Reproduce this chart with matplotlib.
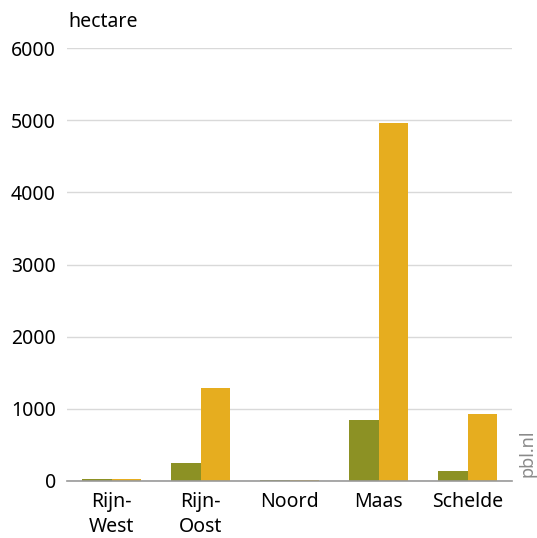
import matplotlib
matplotlib.use("Agg")
import matplotlib.pyplot as plt
import numpy as np

plt.rcParams['font.family'] = ['Noto Sans', 'DejaVu Sans']

categories = ["Rijn-\nWest", "Rijn-\nOost", "Noord", "Maas", "Schelde"]
series_green = [25, 245, 8, 845, 140]
series_orange = [22, 1295, 8, 4960, 930]
yticks = [0, 1000, 2000, 3000, 4000, 5000, 6000]

green = "#8c9124"
orange = "#e6ad1f"

fig = plt.figure(figsize=(5.37, 5.38), dpi=100)
ax = fig.add_axes([67/537, 1-481/538, 445/537, 433/538])

x = np.arange(len(categories))
w = 0.335
ax.bar(x - w/2, series_green, width=w, color=green, zorder=3)
ax.bar(x + w/2, series_orange, width=w, color=orange, zorder=3)

ax.set_xlim(-0.5, len(categories) - 0.5)
ax.set_ylim(0, 6000)
ax.set_yticks(yticks)
ax.set_yticklabels([str(v) for v in yticks], fontsize=14)
ax.set_xticks(x)
ax.set_xticklabels(categories, fontsize=14, linespacing=1.35)
ax.grid(axis='y', color='#d9d9d9', linewidth=1, zorder=0)
for s in ['top', 'right', 'left']:
    ax.spines[s].set_visible(False)
ax.spines['bottom'].set_color('#999999')
ax.spines['bottom'].set_linewidth(1.2)
ax.spines['bottom'].set_zorder(4)
ax.tick_params(axis='both', length=0, colors='black')
ax.tick_params(axis='y', pad=8)
ax.tick_params(axis='x', pad=8)

fig.text(68/537, 1-27/538, "hectare", fontsize=14, ha='left', va='baseline')
fig.text(527/537, 1-453/538, "pbl.nl", fontsize=13, color='#8a8a8a', rotation=90,
         ha='center', va='center')

fig.savefig("out.png", dpi=100)
